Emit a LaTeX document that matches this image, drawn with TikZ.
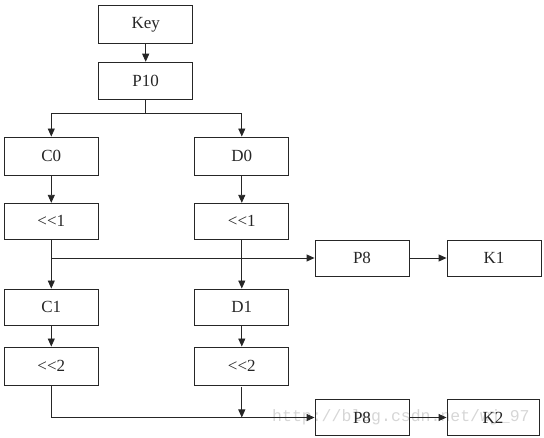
\documentclass[tikz,border=0pt]{standalone}
\usepackage{fontspec}
\newfontfamily\boxfont{Liberation Serif}
\newfontfamily\wmfont{Liberation Mono}
\usetikzlibrary{arrows.meta}
\begin{document}
\begin{tikzpicture}[x=1pt,y=-1pt,
  box/.style={draw=black!85,line width=0.9pt,minimum width=94pt,minimum height=37pt,inner sep=0pt,font=\boxfont\fontsize{17}{17}\selectfont,text=black!85},
  arr/.style={draw=black!85,line width=0.9pt,-{Triangle[length=8pt,width=7pt]}},
  ln/.style={draw=black!85,line width=0.9pt}]
\useasboundingbox (0,0) rectangle (544,438);
\node[anchor=west,text=black!16,font=\wmfont\fontsize{16.5}{16.5}\selectfont,inner sep=0pt] (wm) at (272,417) {http://blog.csdn.net/wj\_97};
\node[box,minimum height=38pt] (key) at (145.7,24.3) {Key};
\node[box] (p10) at (145.7,80.7) {P10};
\node[box,minimum height=38pt] (c0) at (51.3,156) {C0};
\node[box,minimum height=38pt] (d0) at (241.8,156) {D0};
\node[box,minimum height=36pt] (l1a) at (51.3,221.3) {<<1};
\node[box,minimum height=36pt] (l1b) at (241.8,221.3) {<<1};
\node[box,minimum height=36pt] (p8a) at (362,258) {P8};
\node[box,minimum height=36pt] (k1) at (494,258) {K1};
\node[box,minimum height=36pt] (c1) at (51.3,307) {C1};
\node[box,minimum height=36pt] (d1) at (241.8,307) {D1};
\node[box,minimum height=38pt] (l2a) at (51.3,366) {<<2};
\node[box,minimum height=38pt] (l2b) at (241.8,366) {<<2};
\node[box,minimum height=36pt] (p8b) at (362,417.5) {P8};
\node[box,minimum height=36pt,minimum width=92pt] (k2) at (493,417.5) {K2};
\coordinate (br) at (145.7,113);
\draw[arr] (key) -- (p10);
\draw[ln] (p10.south) -- (br);
\draw[arr] (br) -| (c0.north);
\draw[arr] (br) -| (d0.north);
\draw[arr] (c0) -- (l1a);
\draw[arr] (d0) -- (l1b);
\draw[arr] (l1a) -- (c1);
\draw[arr] (l1b) -- (d1);
\coordinate (j1) at (l1a.south |- p8a.west);
\draw[arr] (j1) -- (p8a.west);
\draw[arr] (p8a) -- (k1);
\draw[arr] (c1) -- (l2a);
\draw[arr] (d1) -- (l2b);
\draw[arr] (l2a.south) |- (p8b.west);
\draw[arr,shorten <=2pt] (l2b.south) -- (l2b.south |- p8b.west);
\draw[arr] (p8b) -- (k2);
\end{tikzpicture}
\end{document}
